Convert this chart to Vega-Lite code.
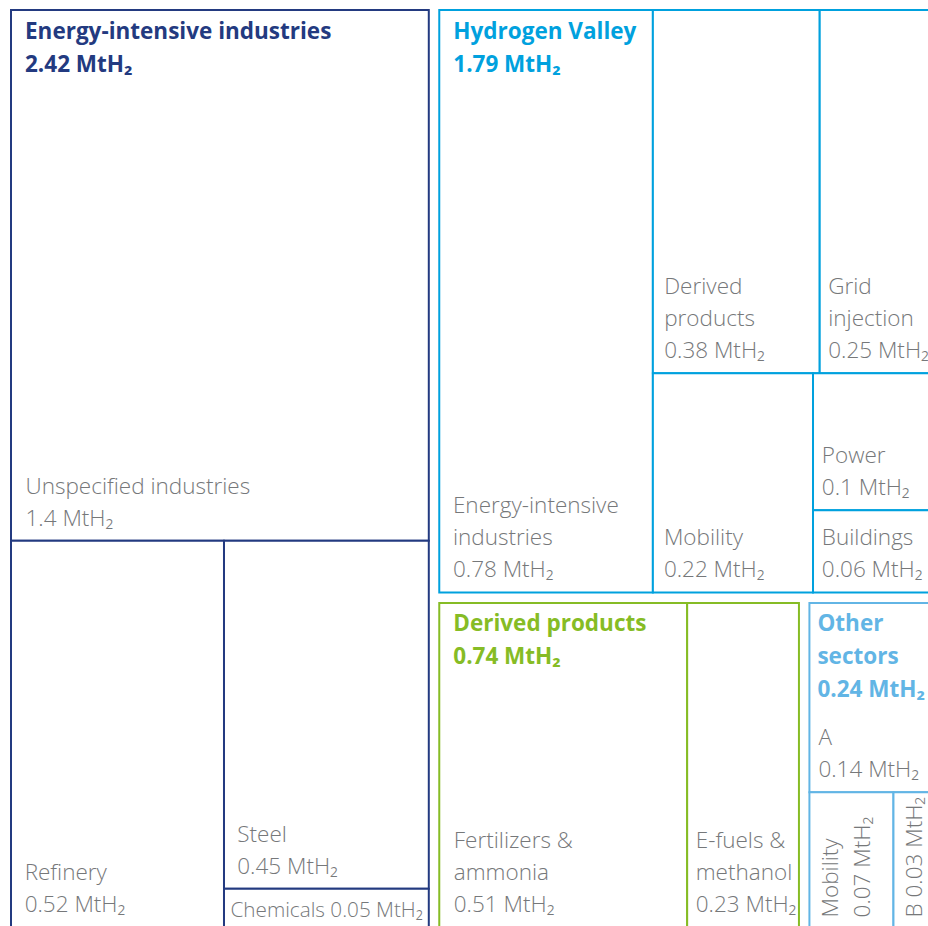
{
  "$schema": "https://vega.github.io/schema/vega-lite/v6.json",
  "width": 917,
  "height": 916,
  "autosize": {"type": "none"},
  "padding": {"left": 11, "top": 10, "right": 0, "bottom": 0},
  "background": "white",
  "config": {"view": {"stroke": null}, "font": "Open Sans"},
  "data": {
    "values": [
      {"label": "Unspecified industries", "value": 1.4, "group": "Energy-intensive industries", "path": "Energy-intensive industries/Unspecified"},
      {"label": "Refinery", "value": 0.52, "group": "Energy-intensive industries", "path": "Energy-intensive industries/E2/Refinery"},
      {"label": "Steel", "value": 0.45, "group": "Energy-intensive industries", "path": "Energy-intensive industries/E2/E3/Steel"},
      {"label": "Chemicals", "value": 0.05, "group": "Energy-intensive industries", "path": "Energy-intensive industries/E2/E3/Chemicals"},
      {"label": "Energy-intensive\nindustries", "value": 0.78, "group": "Hydrogen Valley", "path": "R/Hydrogen Valley/EII"},
      {"label": "Derived\nproducts", "value": 0.38, "group": "Hydrogen Valley", "path": "R/Hydrogen Valley/H2/H2a/Derived"},
      {"label": "Grid\ninjection", "value": 0.25, "group": "Hydrogen Valley", "path": "R/Hydrogen Valley/H2/H2a/Grid"},
      {"label": "Mobility", "value": 0.22, "group": "Hydrogen Valley", "path": "R/Hydrogen Valley/H2/H2b/Mobility"},
      {"label": "Power", "value": 0.1, "group": "Hydrogen Valley", "path": "R/Hydrogen Valley/H2/H2b/H3/Power"},
      {"label": "Buildings", "value": 0.06, "group": "Hydrogen Valley", "path": "R/Hydrogen Valley/H2/H2b/H3/Buildings"},
      {"label": "Fertilizers &\nammonia", "value": 0.51, "group": "Derived products", "path": "R/R2/Derived products/D1/Fertilizers"},
      {"label": "E-fuels &\nmethanol", "value": 0.23, "group": "Derived products", "path": "R/R2/Derived products/D1/Efuels"},
      {"label": "A", "value": 0.14, "group": "Other sectors", "path": "R/R2/Other sectors/A"},
      {"label": "Mobility", "value": 0.07, "group": "Other sectors", "path": "R/R2/Other sectors/O2/Mobility"},
      {"label": "B", "value": 0.03, "group": "Other sectors", "path": "R/R2/Other sectors/O2/B"}
    ]
  },
  "transform": [
    {"window": [{"op": "row_number", "as": "idx"}]},
    {"calculate": "split(datum.path, '/')", "as": "parts"},
    {"calculate": "join(slice(datum.parts, 0, 1), '/')", "as": "p1"},
    {"calculate": "join(slice(datum.parts, 0, 2), '/')", "as": "p2"},
    {"calculate": "join(slice(datum.parts, 0, 3), '/')", "as": "p3"},
    {"calculate": "join(slice(datum.parts, 0, 4), '/')", "as": "p4"},
    {"calculate": "join(slice(datum.parts, 0, 5), '/')", "as": "p5"},
    {"calculate": "join(slice(datum.parts, 0, 6), '/')", "as": "p6"},
    {"calculate": "indexof(datum.parts, datum.group) + 1", "as": "gl"},
    {"joinaggregate": [{"op": "sum", "field": "value", "as": "t0"}]},

    {"joinaggregate": [{"op": "sum", "field": "value", "as": "t1"}], "groupby": ["p1"]},
    {"window": [{"op": "sum", "field": "value", "as": "c1"}], "sort": [{"field": "idx"}], "frame": [null, 0]},
    {"window": [{"op": "sum", "field": "value", "as": "d1"}], "groupby": ["p1"], "sort": [{"field": "idx"}], "frame": [null, 0]},
    {"calculate": "(datum.c1 - datum.d1) / datum.t0", "as": "s1"},
    {"calculate": "(datum.c1 - datum.d1 + datum.t1) / datum.t0", "as": "e1"},
    {"calculate": "datum.e1 - (datum.e1 < 0.999999 && datum.gl >= 1 ? 0.0114 : 0)", "as": "xa1"},
    {"calculate": "datum.s1", "as": "xa0"},

    {"joinaggregate": [{"op": "sum", "field": "value", "as": "t2"}], "groupby": ["p2"]},
    {"window": [{"op": "sum", "field": "value", "as": "c2"}], "groupby": ["p1"], "sort": [{"field": "idx"}], "frame": [null, 0]},
    {"window": [{"op": "sum", "field": "value", "as": "d2"}], "groupby": ["p2"], "sort": [{"field": "idx"}], "frame": [null, 0]},
    {"calculate": "(datum.c2 - datum.d2) / datum.t1", "as": "s2"},
    {"calculate": "(datum.c2 - datum.d2 + datum.t2) / datum.t1", "as": "e2"},
    {"calculate": "datum.e2 - (datum.e2 < 0.999999 && datum.gl >= 2 ? 0.0114 : 0)", "as": "ya1"},
    {"calculate": "datum.s2", "as": "ya0"},

    {"joinaggregate": [{"op": "sum", "field": "value", "as": "t3"}], "groupby": ["p3"]},
    {"window": [{"op": "sum", "field": "value", "as": "c3"}], "groupby": ["p2"], "sort": [{"field": "idx"}], "frame": [null, 0]},
    {"window": [{"op": "sum", "field": "value", "as": "d3"}], "groupby": ["p3"], "sort": [{"field": "idx"}], "frame": [null, 0]},
    {"calculate": "(datum.c3 - datum.d3) / datum.t2", "as": "s3"},
    {"calculate": "(datum.c3 - datum.d3 + datum.t3) / datum.t2", "as": "e3"},
    {"calculate": "datum.xa0 + (datum.xa1 - datum.xa0) * datum.e3 - (datum.e3 < 0.999999 && datum.gl >= 3 ? 0.0114 : 0)", "as": "xb1"},
    {"calculate": "datum.xa0 + (datum.xa1 - datum.xa0) * datum.s3", "as": "xb0"},

    {"joinaggregate": [{"op": "sum", "field": "value", "as": "t4"}], "groupby": ["p4"]},
    {"window": [{"op": "sum", "field": "value", "as": "c4"}], "groupby": ["p3"], "sort": [{"field": "idx"}], "frame": [null, 0]},
    {"window": [{"op": "sum", "field": "value", "as": "d4"}], "groupby": ["p4"], "sort": [{"field": "idx"}], "frame": [null, 0]},
    {"calculate": "(datum.c4 - datum.d4) / datum.t3", "as": "s4"},
    {"calculate": "(datum.c4 - datum.d4 + datum.t4) / datum.t3", "as": "e4"},
    {"calculate": "datum.ya0 + (datum.ya1 - datum.ya0) * datum.e4", "as": "yb1"},
    {"calculate": "datum.ya0 + (datum.ya1 - datum.ya0) * datum.s4", "as": "yb0"},

    {"joinaggregate": [{"op": "sum", "field": "value", "as": "t5"}], "groupby": ["p5"]},
    {"window": [{"op": "sum", "field": "value", "as": "c5"}], "groupby": ["p4"], "sort": [{"field": "idx"}], "frame": [null, 0]},
    {"window": [{"op": "sum", "field": "value", "as": "d5"}], "groupby": ["p5"], "sort": [{"field": "idx"}], "frame": [null, 0]},
    {"calculate": "(datum.c5 - datum.d5) / datum.t4", "as": "s5"},
    {"calculate": "(datum.c5 - datum.d5 + datum.t5) / datum.t4", "as": "e5"},
    {"calculate": "datum.xb0 + (datum.xb1 - datum.xb0) * datum.e5", "as": "xc1"},
    {"calculate": "datum.xb0 + (datum.xb1 - datum.xb0) * datum.s5", "as": "xc0"},

    {"joinaggregate": [{"op": "sum", "field": "value", "as": "t6"}], "groupby": ["p6"]},
    {"window": [{"op": "sum", "field": "value", "as": "c6"}], "groupby": ["p5"], "sort": [{"field": "idx"}], "frame": [null, 0]},
    {"window": [{"op": "sum", "field": "value", "as": "d6"}], "groupby": ["p6"], "sort": [{"field": "idx"}], "frame": [null, 0]},
    {"calculate": "(datum.c6 - datum.d6) / datum.t5", "as": "s6"},
    {"calculate": "(datum.c6 - datum.d6 + datum.t6) / datum.t5", "as": "e6"},
    {"calculate": "datum.yb0 + (datum.yb1 - datum.yb0) * datum.e6", "as": "yc1"},
    {"calculate": "datum.yb0 + (datum.yb1 - datum.yb0) * datum.s6", "as": "yc0"},
    {"calculate": "(datum.xc1 - datum.xc0) < 0.1", "as": "rot"}
  ],
  "layer": [
    {
      "mark": {"type": "rect", "fill": "white", "strokeWidth": 2},
      "encoding": {
        "x": {"field": "xc0", "type": "quantitative", "scale": {"domain": [0, 0.9984], "nice": false, "zero": false}, "axis": null},
        "x2": {"field": "xc1"},
        "y": {"field": "yc0", "type": "quantitative", "scale": {"domain": [0, 0.9984], "nice": false, "zero": false, "reverse": true}, "axis": null},
        "y2": {"field": "yc1"},
        "stroke": {
          "field": "group", "type": "nominal", "legend": null,
          "scale": {"domain": ["Energy-intensive industries", "Hydrogen Valley", "Derived products", "Other sectors"], "range": ["#233a80", "#00a1de", "#86bc25", "#62b5e5"]}
        }
      }
    },
    {
      "transform": [
        {"filter": "!datum.rot"},
        {"calculate": "(datum.yc1 - datum.yc0) < 0.05", "as": "oneline"},
        {"calculate": "datum.label + (datum.oneline ? ' ' : '\\n') + datum.value + ' MtH₂'", "as": "txt"}
      ],
      "mark": {
        "type": "text", "align": "left", "baseline": "bottom",
        "dx": {"expr": "datum.oneline ? 6.5 : clamp(3 + 0.05 * 918 * (datum.xc1 - datum.xc0), 6, 14.5)"},
        "dy": {"expr": "datum.oneline ? -6 : -10 - 32 * (length(split(datum.txt, '\\n')) - 1)"},
        "fontSize": {"expr": "datum.oneline ? 20.7 : 22.5"},
        "fontWeight": 300, "font": "Open Sans", "color": "#76787a", "lineHeight": 32, "lineBreak": "\n"
      },
      "encoding": {
        "x": {"field": "xc0", "type": "quantitative"},
        "y": {"field": "yc1", "type": "quantitative"},
        "text": {"field": "txt"}
      }
    },
    {
      "transform": [
        {"filter": "datum.rot"},
        {"calculate": "datum.label + ((datum.xc1 - datum.xc0) < 0.05 ? ' ' : '\\n') + datum.value + ' MtH₂'", "as": "txt"}
      ],
      "mark": {"type": "text", "align": "left", "baseline": "top", "angle": 270, "dx": 10, "dy": 11, "fontSize": 22.5, "fontWeight": 300, "font": "Open Sans", "color": "#76787a", "lineHeight": 32, "lineBreak": "\n"},
      "encoding": {
        "x": {"field": "xc0", "type": "quantitative"},
        "y": {"field": "yc1", "type": "quantitative"},
        "text": {"field": "txt"}
      }
    },
    {
      "transform": [
        {"aggregate": [
          {"op": "min", "field": "xc0", "as": "gx0"},
          {"op": "max", "field": "xc1", "as": "gx1"},
          {"op": "min", "field": "yc0", "as": "gy0"},
          {"op": "sum", "field": "value", "as": "total"}
        ], "groupby": ["group"]},
        {"calculate": "((datum.gx1 - datum.gx0) < 0.2 ? replace(datum.group, ' ', '\\n') : datum.group) + '\\n' + format(datum.total, '.2f') + ' MtH₂'", "as": "title"}
      ],
      "mark": {
        "type": "text", "align": "left", "baseline": "alphabetic",
        "dx": {"expr": "clamp(2 + 0.05 * 918 * (datum.gx1 - datum.gx0), 6, 14)"},
        "dy": 28.5, "fontSize": 22.5, "fontWeight": "bold", "font": "Open Sans", "lineHeight": 33, "lineBreak": "\n"
      },
      "encoding": {
        "x": {"field": "gx0", "type": "quantitative"},
        "y": {"field": "gy0", "type": "quantitative"},
        "text": {"field": "title"},
        "color": {
          "field": "group", "type": "nominal", "legend": null,
          "scale": {"domain": ["Energy-intensive industries", "Hydrogen Valley", "Derived products", "Other sectors"], "range": ["#233a80", "#00a1de", "#86bc25", "#62b5e5"]}
        }
      }
    }
  ]
}
